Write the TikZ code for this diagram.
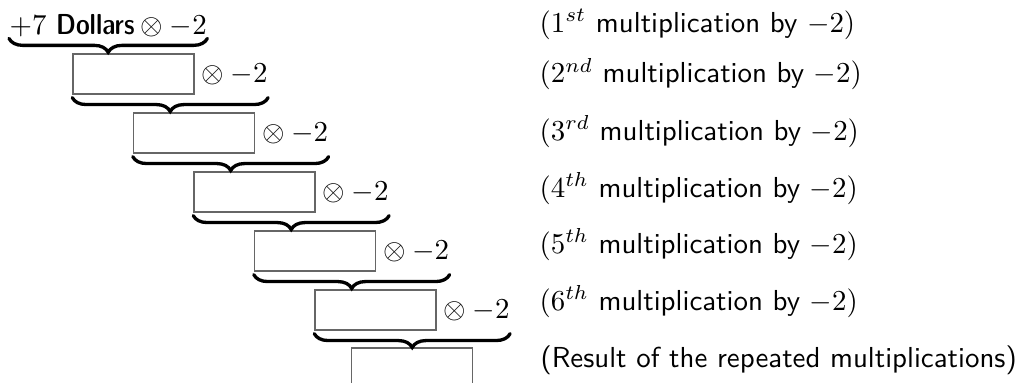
\documentclass[tikz,border=0pt]{standalone}
\usetikzlibrary{decorations.pathreplacing}
\renewcommand{\familydefault}{\sfdefault}
\begin{document}
\begin{tikzpicture}[x=0.346pt,y=-0.346pt,
  valbox/.style={draw=black!60,line width=0.5pt,minimum width=41.87pt,minimum height=13.84pt,inner sep=0pt},
  optext/.style={anchor=west,inner sep=0pt},
  lbl/.style={anchor=base west,inner sep=0pt},
  ubrace/.style={decorate,decoration={brace,mirror,amplitude=4.8pt},line width=1.15pt,line cap=round}]
\useasboundingbox (0,0) rectangle (1021,383);
% first row
\node[lbl] (t1) at (9,34) {$+7\ \mbox{\fontseries{sbc}\selectfont Dollars}\otimes -2$};
% boxes
\node[valbox] (b1) at (133.5,74) {};
\node[valbox] (b2) at (194,133) {};
\node[valbox] (b3) at (254.5,192) {};
\node[valbox] (b4) at (315,251) {};
\node[valbox] (b5) at (375.5,310) {};
\node[valbox] (b6) at (412,368) {};
% operators
\node[optext] (m1) at (b1.east) {${}\otimes -2$};
\node[optext] (m2) at (b2.east) {${}\otimes -2$};
\node[optext] (m3) at (b3.east) {${}\otimes -2$};
\node[optext] (m4) at (b4.east) {${}\otimes -2$};
\node[optext] (m5) at (b5.east) {${}\otimes -2$};
% brace end points
\coordinate (e1) at (b1.south west -| m1.east);
\coordinate (e2) at (b2.south west -| m2.east);
\coordinate (e3) at (b3.south west -| m3.east);
\coordinate (e4) at (b4.south west -| m4.east);
\coordinate (e5) at (b5.south west -| m5.east);
% braces
\draw[ubrace] ([yshift=-0.5pt]t1.south west) -- ([yshift=-0.5pt]t1.south east);
\draw[ubrace] ([yshift=-1pt]b1.south west) -- ([yshift=-1pt]e1);
\draw[ubrace] ([yshift=-1pt]b2.south west) -- ([yshift=-1pt]e2);
\draw[ubrace] ([yshift=-1pt]b3.south west) -- ([yshift=-1pt]e3);
\draw[ubrace] ([yshift=-1pt]b4.south west) -- ([yshift=-1pt]e4);
\draw[ubrace] ([yshift=-1pt]b5.south west) -- ([yshift=-1pt]e5);
% labels
\node[lbl] (l1) at (539,32) {$(1^{st}$ multiplication by $-2)$};
\node[lbl] (l2) at (539,83) {$(2^{nd}$ multiplication by $-2)$};
\node[lbl] (l3) at (539,140) {$(3^{rd}$ multiplication by $-2)$};
\node[lbl] (l4) at (539,197) {$(4^{th}$ multiplication by $-2)$};
\node[lbl] (l5) at (539,253) {$(5^{th}$ multiplication by $-2)$};
\node[lbl] (l6) at (539,310) {$(6^{th}$ multiplication by $-2)$};
\node[lbl] (l7) at (540,367) {(Result of the repeated multiplications)};
\end{tikzpicture}
\end{document}
